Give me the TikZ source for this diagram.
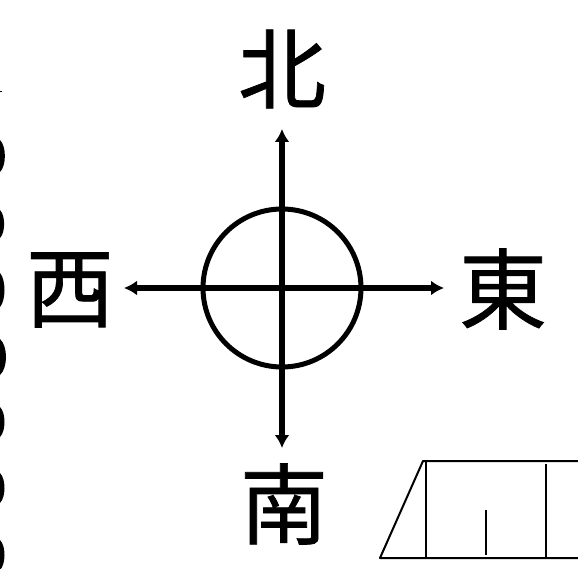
\documentclass[tikz,border=0pt]{standalone}
\usepackage{fontspec}
\newfontfamily\cjk[FakeBold=0.8]{Noto Sans CJK JP}
\usetikzlibrary{arrows.meta}
\tikzset{
  glyph/.style={inner sep=0pt,font=\cjk\fontsize{88}{88}\selectfont},
  axis/.style={line width=5.2pt,{Latex[length=13pt,width=15pt]}-{Latex[length=13pt,width=15pt]}},
  thin line/.style={line width=2pt},
  scallop/.style={fill=black,draw=none}
}
\begin{document}
\begin{tikzpicture}[x=1pt,y=-1pt]
\useasboundingbox (0,0) rectangle (578,569);
\clip (0,0) rectangle (578,569);
\node[glyph] (north) at (282,69) {北};
\node[glyph] (west) at (70,290) {西};
\node[glyph] (east) at (503,289) {東};
\node[glyph] (south) at (284,504) {南};
\coordinate (n) at (282,129);
\coordinate (s) at (282,448);
\coordinate (w) at (124,288);
\coordinate (e) at (444,288);
\draw[axis] (n) -- (s);
\draw[axis] (w) -- (e);
\node[circle,draw,line width=5pt,minimum size=158pt,inner sep=0pt] (ring) at (282,288) {};
\draw[thin line,line join=round] (578,461) -- (423,461) -- (380,558) -- (578,558);
\draw[thin line] (425.5,461) -- (425.5,558);
\draw[thin line] (545.5,464) -- (545.5,558);
\draw[thin line] (485.5,510) -- (485.5,555);
\foreach \y/\h/\w in {156/16/6.5,224/14/5.5,290/17/6,357/18/8,422/15/6,488/15/6,555/15/6}{
  \fill[scallop] (0,\y-\h) .. controls (\w,\y-\h*0.6) and (\w,\y+\h*0.6) .. (0,\y+\h) -- cycle;
}
\draw[line width=1pt] (0,92) -- (1.5,92);
\end{tikzpicture}
\end{document}
